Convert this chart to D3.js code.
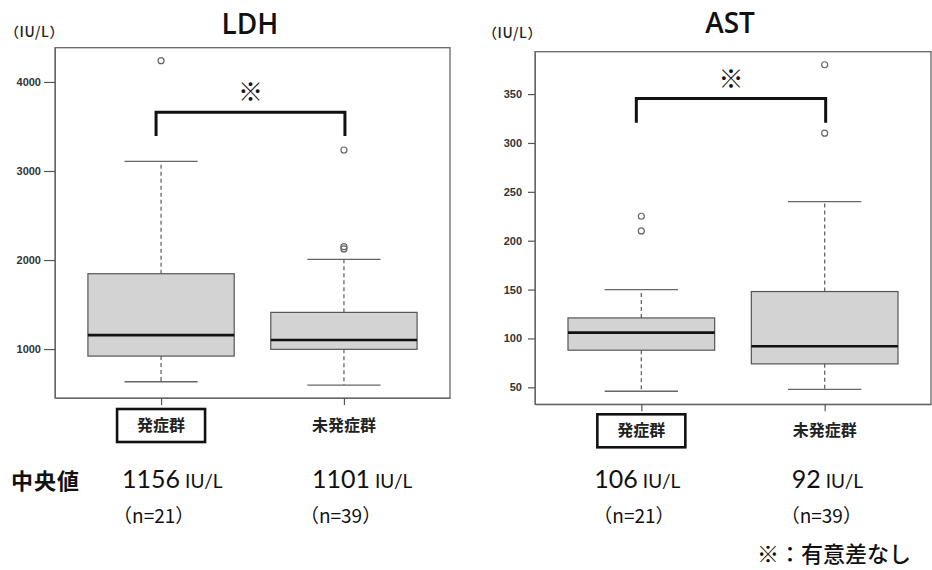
<!DOCTYPE html>
<html>
<head>
<meta charset="utf-8">
<script src="https://cdn.jsdelivr.net/npm/d3@7"></script>
<style>
    body { margin: 0; background: #fff; }
    svg { display: block; }
</style>
</head>
<body>
<div id="chart"></div>
<script>
// groups and sample sizes
const groups = ["発症群", "未発症群"];
const groupN = [21, 39];

// LDH (IU/L) box stats
const ldhLow = [633, 596];
const ldhQ1 = [921, 997];
const ldhMedian = [1156, 1101];
const ldhQ3 = [1846, 1412];
const ldhHigh = [3109, 2008];
const ldhOutliers = [[4239], [2125, 2150, 3236]];
const ldhTicks = [1000, 2000, 3000, 4000];

// AST (IU/L)
const astLow = [46, 48];
const astQ1 = [88, 74];
const astMedian = [106, 92];
const astQ3 = [121, 148];
const astHigh = [150, 240];
const astOutliers = [[210, 225], [310, 380]];
const astTicks = [50, 100, 150, 200, 250, 300, 350];

const wrapper = d3.select("#chart").append("svg")
    .attr("width", 932)
    .attr("height", 570)

const jp = "'Noto Sans CJK JP', sans-serif";

//DRAW ONE BOX PLOT PANEL
function drawPanel(p) {
    const data = groups.map((g, i) => ({
        group: g,
        low: p.low[i], q1: p.q1[i], median: p.median[i], q3: p.q3[i], high: p.high[i],
        outliers: p.outliers[i]
    }));

    // R style: data range extended by 4%
    const all = d3.merge([p.low, p.high, ...p.outliers]);
    const [mn, mx] = d3.extent(all);
    const pad = (mx - mn) * 0.04;

    const yScale = d3.scaleLinear()
        .domain([mn - pad, mx + pad])
        .range([p.frame.bottom, p.frame.top]);

    const xScale = d3.scalePoint()
        .domain(groups)
        .range([p.frame.left, p.frame.right])
        .padding(0.58);

    const step = xScale.step();
    const boxW = step * 0.8;
    const capW = boxW / 2;

    const bounds = wrapper.append("g");

    // frame
    bounds.append("rect")
        .attr("x", p.frame.left)
        .attr("y", p.frame.top)
        .attr("width", p.frame.right - p.frame.left)
        .attr("height", p.frame.bottom - p.frame.top)
        .attr("fill", "none")
        .attr("stroke", "#666")
        .attr("stroke-width", 1.3)

    // y axis
    const yAxis = bounds.append("g")
        .attr("transform", `translate(${p.frame.left},0)`)
        .call(d3.axisLeft(yScale).tickValues(p.ticks).tickFormat(d3.format("d"))
            .tickSize(p.tickSize).tickPadding(p.tickPadding).tickSizeOuter(0))
    yAxis.select(".domain").attr("stroke", "#666")
    yAxis.selectAll(".tick line").attr("stroke", "#555").attr("stroke-width", 1.2)
    yAxis.selectAll(".tick text")
        .attr("font-family", "'Liberation Sans', Arial, sans-serif")
        .attr("font-size", 11)
        .attr("font-weight", "bold")
        .attr("fill", "#333")

    // x axis (ticks only)
    const xAxis = bounds.append("g")
        .attr("transform", `translate(0,${p.frame.bottom})`)
        .call(d3.axisBottom(xScale).tickSize(7).tickSizeOuter(0).tickFormat(""))
    xAxis.select(".domain").attr("stroke", "#666")
    xAxis.selectAll(".tick line").attr("stroke", "#555").attr("stroke-width", 1.2)

    const boxes = bounds.selectAll(".box")
        .data(data)
        .enter()
        .append("g")
        .attr("class", "box")

    // whiskers
    boxes.append("line")
        .attr("x1", d => xScale(d.group)).attr("x2", d => xScale(d.group))
        .attr("y1", d => yScale(d.q3)).attr("y2", d => yScale(d.high))
        .attr("stroke", "#666").attr("stroke-width", 1.3).attr("stroke-dasharray", "4,3")
    boxes.append("line")
        .attr("x1", d => xScale(d.group)).attr("x2", d => xScale(d.group))
        .attr("y1", d => yScale(d.q1)).attr("y2", d => yScale(d.low))
        .attr("stroke", "#666").attr("stroke-width", 1.3).attr("stroke-dasharray", "4,3")

    // caps
    boxes.append("line")
        .attr("x1", d => xScale(d.group) - capW / 2).attr("x2", d => xScale(d.group) + capW / 2)
        .attr("y1", d => yScale(d.high)).attr("y2", d => yScale(d.high))
        .attr("stroke", "#666").attr("stroke-width", 1.3)
    boxes.append("line")
        .attr("x1", d => xScale(d.group) - capW / 2).attr("x2", d => xScale(d.group) + capW / 2)
        .attr("y1", d => yScale(d.low)).attr("y2", d => yScale(d.low))
        .attr("stroke", "#666").attr("stroke-width", 1.3)

    // box
    boxes.append("rect")
        .attr("x", d => xScale(d.group) - boxW / 2)
        .attr("y", d => yScale(d.q3))
        .attr("width", boxW)
        .attr("height", d => yScale(d.q1) - yScale(d.q3))
        .attr("fill", "#d3d3d3")
        .attr("stroke", "#555")
        .attr("stroke-width", 1.2)

    // median
    boxes.append("line")
        .attr("x1", d => xScale(d.group) - boxW / 2).attr("x2", d => xScale(d.group) + boxW / 2)
        .attr("y1", d => yScale(d.median)).attr("y2", d => yScale(d.median))
        .attr("stroke", "#111").attr("stroke-width", 2.6)

    // outliers
    boxes.selectAll(".outlier")
        .data(d => d.outliers.map(v => ({ group: d.group, value: v })))
        .enter()
        .append("circle")
        .attr("class", "outlier")
        .attr("cx", d => xScale(d.group))
        .attr("cy", d => yScale(d.value))
        .attr("r", 3)
        .attr("fill", "none")
        .attr("stroke", "#666")
        .attr("stroke-width", 1.2)

    // bracket + mark
    const bx1 = xScale(groups[0]) - 5;
    const bx2 = xScale(groups[1]) + 1;
    bounds.append("path")
        .attr("d", `M${bx1},${yScale(p.bracket[1])}V${yScale(p.bracket[0])}H${bx2}V${yScale(p.bracket[1])}`)
        .attr("fill", "none")
        .attr("stroke", "#111")
        .attr("stroke-width", 3)
    bounds.append("text")
        .attr("x", (bx1 + bx2) / 2)
        .attr("y", yScale(p.markValue) + 9)
        .attr("text-anchor", "middle")
        .attr("font-family", jp)
        .attr("font-size", 25)
        .attr("font-weight", "bold")
        .attr("fill", "#111")
        .text("※")

    // titles
    bounds.append("text")
        .attr("x", p.titleX)
        .attr("y", p.titleY)
        .attr("text-anchor", "middle")
        .attr("font-family", "'Open Sans', sans-serif")
        .attr("font-size", 28)
        .attr("font-weight", 600)
        .attr("fill", "#111")
        .text(p.title)
    bounds.append("text")
        .attr("x", p.unitX)
        .attr("y", p.unitY)
        .attr("font-family", jp)
        .attr("font-size", 14)
        .attr("font-weight", 500)
        .attr("letter-spacing", 0.6)
        .attr("fill", "#222")
        .text("（IU/L）")

    // group labels under axis
    const labelTop = p.frame.bottom + p.labelGap;
    bounds.append("rect")
        .attr("x", xScale(groups[0]) - 44)
        .attr("y", labelTop)
        .attr("width", 88)
        .attr("height", 33)
        .attr("fill", "none")
        .attr("stroke", "#111")
        .attr("stroke-width", 2.6)
    bounds.selectAll(".grp")
        .data(groups)
        .enter()
        .append("text")
        .attr("x", d => xScale(d))
        .attr("y", labelTop + 22)
        .attr("text-anchor", "middle")
        .attr("font-family", jp)
        .attr("font-size", 16)
        .attr("font-weight", "bold")
        .attr("fill", "#222")
        .text(d => d)

    // medians
    const med = bounds.selectAll(".med")
        .data(data)
        .enter()
        .append("text")
        .attr("x", (d, i) => xScale(d.group) + p.medDx[i])
        .attr("y", 488)
        .attr("font-family", "Lato, sans-serif")
        .attr("fill", "#111")
    med.append("tspan").attr("font-size", 25).text(d => d.median)
    med.append("tspan").attr("font-size", 19).attr("dx", 5).text("IU/L")

    bounds.selectAll(".nlab")
        .data(groupN)
        .enter()
        .append("text")
        .attr("x", (d, i) => xScale(groups[i]) + [-48, -44][i])
        .attr("y", 523)
        .attr("font-family", jp)
        .attr("font-size", 19)
        .attr("fill", "#111")
        .text(d => `（n=${d}）`)
}

drawPanel({
    title: "LDH", titleX: 250, titleY: 34, unitX: 5, unitY: 37,
    low: ldhLow, q1: ldhQ1, median: ldhMedian, q3: ldhQ3, high: ldhHigh, outliers: ldhOutliers,
    ticks: ldhTicks, tickSize: 11, tickPadding: 3,
    frame: { left: 55, right: 450, top: 47.7, bottom: 398 },
    bracket: [3660, 3393], markValue: 3888,
    labelGap: 11, medDx: [-39, -32]
});

drawPanel({
    title: "AST", titleX: 730, titleY: 33, unitX: 483, unitY: 38,
    low: astLow, q1: astQ1, median: astMedian, q3: astQ3, high: astHigh, outliers: astOutliers,
    ticks: astTicks, tickSize: 7, tickPadding: 6,
    frame: { left: 535, right: 931, top: 51.7, bottom: 404.3 },
    bracket: [345.6, 320.8], markValue: 365,
    labelGap: 10, medDx: [-47, -33]
});

// row label and footnote
wrapper.append("text")
    .attr("x", 11)
    .attr("y", 489)
    .attr("font-family", jp)
    .attr("font-size", 22)
    .attr("font-weight", "bold")
    .attr("letter-spacing", 1)
    .attr("fill", "#111")
    .text("中央値")

wrapper.append("text")
    .attr("x", 757)
    .attr("y", 562)
    .attr("font-family", jp)
    .attr("font-size", 22)
    .attr("font-weight", 500)
    .attr("fill", "#111")
    .text("※：有意差なし")
</script>
</body>
</html>
